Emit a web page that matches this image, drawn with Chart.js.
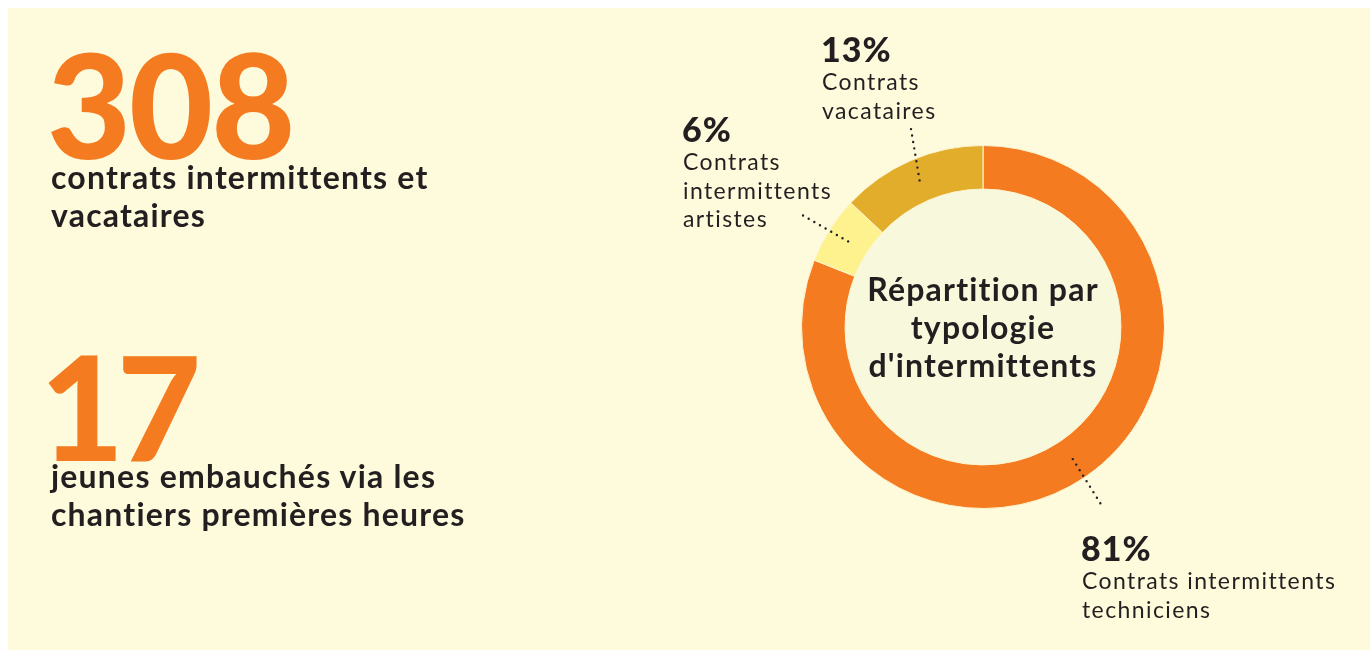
<!DOCTYPE html>
<html>
<head>
<meta charset="utf-8">
<script src="https://cdn.jsdelivr.net/npm/chart.js@4.4.1/dist/chart.umd.min.js"></script>
<style>
  html, body { margin: 0; padding: 0; background: #ffffff; }
  #wrap { position: relative; width: 1370px; height: 650px; overflow: hidden; }
  #panel { position: absolute; left: 8px; top: 8px; right: 0; bottom: 0; background: #fefadc; }
  #myChart { position: absolute; left: 0; top: 0; }
  .txt { position: absolute; color: #231f20; font-family: Lato, sans-serif; font-variant-ligatures: none; white-space: nowrap; }
  .big { color: #f47b20; font-weight: 900; font-size: 145px; line-height: 145px; }
  .desc { font-weight: 700; font-size: 32px; line-height: 38px; letter-spacing: 1.2px; }
</style>
</head>
<body>
<div id="wrap">
  <div id="panel"></div>
  <canvas id="myChart" width="1370" height="650"></canvas>
  <div class="txt big" id="num1" style="left:47px; top:31px; letter-spacing:-2px"></div>
  <div class="txt desc" id="desc1" style="left:51px; top:158px"></div>
  <div class="txt big" id="num2" style="left:40px; top:333px; letter-spacing:-7px"></div>
  <div class="txt desc" id="desc2" style="left:51px; top:457px"></div>
</div>
<script>
// Chiffres clés (colonne de gauche)
const keyNumbers = ['308', '17'];
const keyTexts = [['contrats intermittents et', 'vacataires'], ['jeunes embauchés via les', 'chantiers premières heures']];

// Donut : répartition par typologie d'intermittents
const categories = ['Contrats intermittents techniciens', 'Contrats intermittents artistes', 'Contrats vacataires'];
const shares = [81, 6, 13];
const labelLines = [['Contrats intermittents', 'techniciens'], ['Contrats', 'intermittents', 'artistes'], ['Contrats', 'vacataires']];
const colors = ['#f47b20', '#fdf28e', '#e3ad2c'];
const centerTitle = ['Répartition par', 'typologie', "d'intermittents"];

// where each label sits, and where its dotted line ends (offset from arc middle)
const labelPos = [{x: 1081, y: 561}, {x: 682, y: 142}, {x: 821, y: 62}];
const leaderOffset = [{dx: 30, dy: 48}, {dx: -47, dy: -27}, {dx: -9, dy: -54}];

['1', '2'].forEach((n, i) => {
    document.getElementById('num' + n).textContent = keyNumbers[i];
    document.getElementById('desc' + n).innerHTML = keyTexts[i].join('<br>');
});

const donutExtras = {
    id: 'donutExtras',
    beforeDatasetsDraw(chart) {
        const arc = chart.getDatasetMeta(0).data[0];
        const ctx = chart.ctx;
        ctx.save();
        ctx.fillStyle = '#f8f8dc';
        ctx.beginPath();
        ctx.arc(arc.x, arc.y, arc.innerRadius, 0, Math.PI * 2);
        ctx.fill();
        ctx.restore();
    },
    afterDatasetsDraw(chart) {
        const ctx = chart.ctx;
        const meta = chart.getDatasetMeta(0);
        ctx.save();
        // titre au centre
        const c = meta.data[0];
        ctx.fillStyle = '#231f20';
        ctx.textAlign = 'center';
        ctx.textBaseline = 'alphabetic';
        ctx.letterSpacing = '1.2px';
        ctx.font = 'bold 32px Lato';
        centerTitle.forEach((t, i) => ctx.fillText(t, c.x, c.y - 26 + i * 38));

        meta.data.forEach((el, i) => {
            const p = el.getCenterPoint();
            // dotted leader line
            ctx.strokeStyle = '#231f20';
            ctx.lineWidth = 2.4;
            ctx.lineCap = 'round';
            ctx.setLineDash([0, 6.5]);
            ctx.beginPath();
            ctx.moveTo(p.x, p.y);
            ctx.lineTo(p.x + leaderOffset[i].dx, p.y + leaderOffset[i].dy);
            ctx.stroke();
            ctx.setLineDash([]);

            ctx.textAlign = 'left';
            ctx.letterSpacing = '1px';
            ctx.font = '900 34px Lato';
            ctx.fillText(shares[i] + '%', labelPos[i].x, labelPos[i].y);
            ctx.letterSpacing = '1.4px';
            ctx.font = '23px Lato';
            labelLines[i].forEach((t, j) => ctx.fillText(t, labelPos[i].x + 1, labelPos[i].y + 28 + j * 28.5));
        });
        ctx.restore();
    }
};

var context = document.getElementById('myChart').getContext('2d');
var myChart = new Chart(context, {
    type: 'doughnut',
    data: {
        labels: categories,
        datasets: [{
            data: shares,
            backgroundColor: colors,
            borderColor: '#fdf5d2',
            borderWidth: 1
        }]
    },
    options: {
        responsive: false,
        animation: false,
        cutout: '76%',
        layout: { padding: { left: 801, right: 205, top: 145, bottom: 141 } },
        plugins: {
            legend: { display: false },
            tooltip: { enabled: false }
        }
    },
    plugins: [donutExtras]
});
</script>
</body>
</html>
